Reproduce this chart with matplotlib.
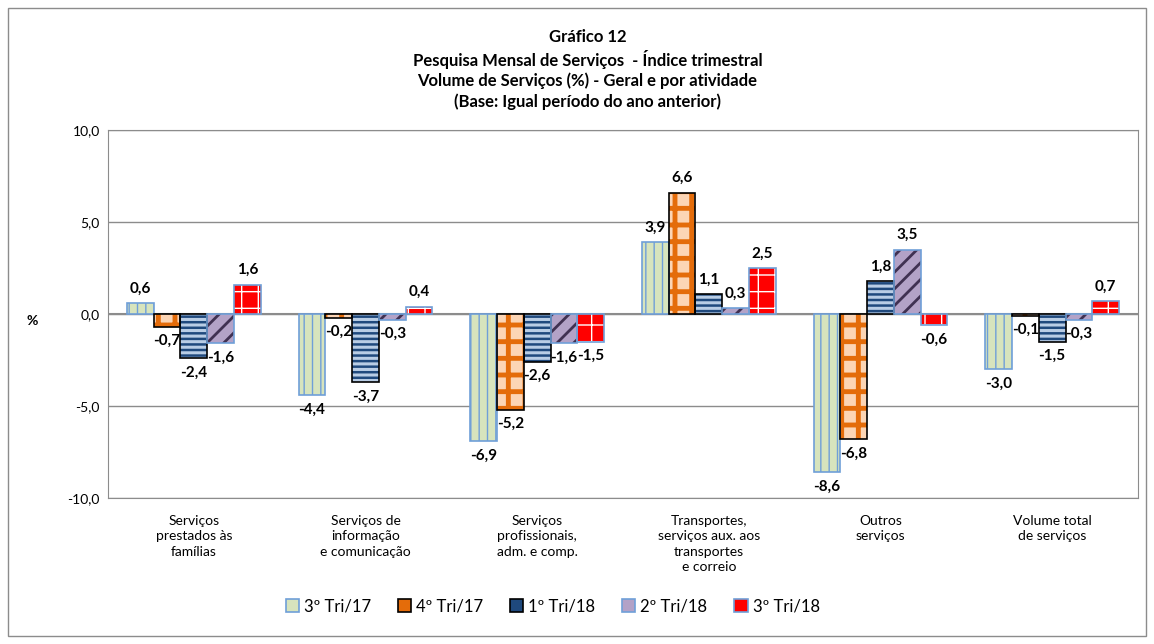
import numpy as np
import matplotlib
matplotlib.use("Agg")
import matplotlib.pyplot as plt
from matplotlib.patches import Rectangle

plt.rcParams['font.family'] = ['Lato', 'DejaVu Sans']

categories = [
    "Serviços\nprestados às\nfamílias",
    "Serviços de\ninformação\ne comunicação",
    "Serviços\nprofissionais,\nadm. e comp.",
    "Transportes,\nserviços aux. aos\ntransportes\ne correio",
    "Outros\nserviços",
    "Volume total\nde serviços",
]
series_names = ["3º Tri/17", "4º Tri/17", "1º Tri/18", "2º Tri/18", "3º Tri/18"]
tri3_17 = [0.6, -4.4, -6.9, 3.9, -8.6, -3.0]
tri4_17 = [-0.7, -0.2, -5.2, 6.6, -6.8, -0.1]
tri1_18 = [-2.4, -3.7, -2.6, 1.1, 1.8, -1.5]
tri2_18 = [-1.6, -0.3, -1.6, 0.3, 3.5, -0.3]
tri3_18 = [1.6, 0.4, -1.5, 2.5, -0.6, 0.7]
series = [tri3_17, tri4_17, tri1_18, tri2_18, tri3_18]

# face, hatch, hatch colour, edge colour, hatch linewidth
styles = [
    ("#D7E4BD", "||", "#6F9FD8", "#6F9FD8", 1.0),
    ("#FCD5B5", "+", "#E46C0A", "#000000", 3.5),
    ("#1F497D", "---", "#B9CDE5", "#000000", 2.2),
    ("#B3A2C7", "//", "#403152", "#6F9FD8", 2.0),
    ("#FF0000", "+", "#FFFFFF", "#6F9FD8", 1.0),
]

fig = plt.figure(figsize=(11.54, 6.44), dpi=100)
ax = fig.add_axes([0.0936, 0.2267, 0.8925, 0.5714])

x = np.arange(len(categories))
width = 0.156

for i, (vals, name) in enumerate(zip(series, series_names)):
    face, hatch, hcol, ecol, hlw = styles[i]
    pos = x + (i - 2) * width
    with plt.rc_context({'hatch.linewidth': hlw}):
        ax.bar(pos, vals, width, color=face, hatch=hatch, edgecolor=hcol, linewidth=0, zorder=3)
    ax.bar(pos, vals, width, fill=False, edgecolor=ecol, linewidth=1.2, zorder=4)
    # legend proxy
    legend_face = "#E46C0A" if i == 1 else face
    ax.bar([0], [0], 0, color=legend_face, edgecolor=ecol, linewidth=1.2, label=name)
    for p, v in zip(pos, vals):
        txt = f"{v:.1f}".replace(".", ",")
        if v >= 0:
            ax.text(p, v + 0.4, txt, ha='center', va='bottom', fontsize=11, fontweight='bold', zorder=5)
        else:
            ax.text(p, v - 0.4, txt, ha='center', va='top', fontsize=11, fontweight='bold', zorder=5)

ax.set_xlim(-0.5, len(categories) - 0.5)
ax.set_ylim(-10, 10)
ax.set_yticks([-10, -5, 0, 5, 10])
ax.set_yticklabels([f"{t:.1f}".replace(".", ",") for t in [-10, -5, 0, 5, 10]], fontsize=10)
ax.yaxis.grid(True, color="#8C8C8C", linewidth=1, zorder=0)
ax.axhline(0, color="#8C8C8C", linewidth=1.5, zorder=2)
ax.set_xticks(x)
ax.set_xticklabels(categories, fontsize=10, linespacing=1.35, va='top')
ax.tick_params(axis='x', length=0, pad=12)
ax.tick_params(axis='y', length=0, pad=6)
for s in ax.spines.values():
    s.set_color("#8C8C8C")
ax.set_ylabel("%", fontsize=10, fontweight='bold', rotation=0, va='center', ha='center')
ax.yaxis.set_label_coords(-0.074, 0.48)

fig.text(0.509, 0.955,
         "Gráfico 12\nPesquisa Mensal de Serviços  - Índice trimestral\n"
         "Volume de Serviços (%) - Geral e por atividade\n(Base: Igual período do ano anterior)",
         ha='center', va='top', fontsize=12, fontweight='bold', linespacing=1.3)

fig.legend(loc='center', bbox_to_anchor=(0.479, 0.058), ncol=5, frameon=False,
           fontsize=12, handlelength=0.8, handleheight=0.8, columnspacing=1.6, handletextpad=0.3)

fig.patches.append(Rectangle((0.007, 0.012), 0.986, 0.976, transform=fig.transFigure,
                             fill=False, edgecolor="#8C8C8C", linewidth=1))

fig.savefig("out.png", dpi=100)
